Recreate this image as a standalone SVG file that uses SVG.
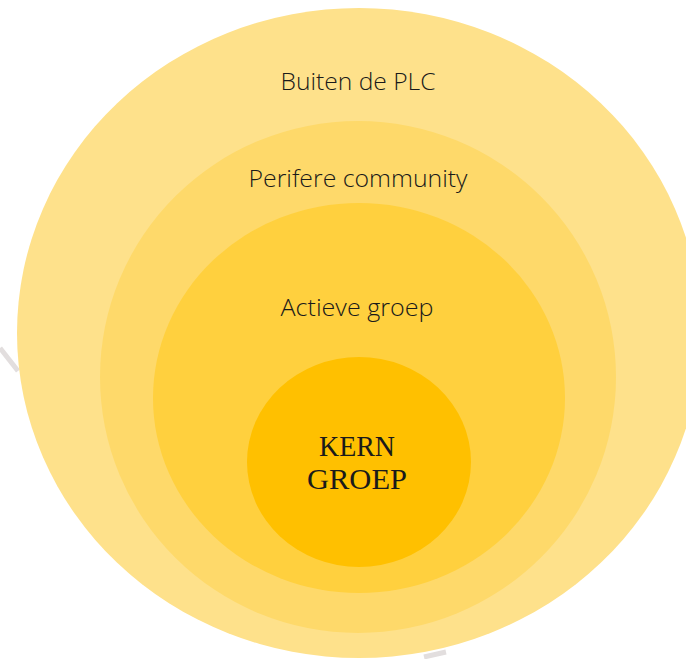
<svg xmlns="http://www.w3.org/2000/svg" width="686" height="659" viewBox="0 0 686 659">
  <style>
    .lbl { font-family: "Open Sans", "Liberation Sans", sans-serif; font-weight: 300; font-size: 24px; fill: #1a1a1a; text-anchor: middle; }
    .core { font-family: "Liberation Serif", "DejaVu Serif", serif; font-size: 30px; fill: #1a1a1a; text-anchor: middle; }
    .artifact { stroke: #e2dede; stroke-width: 5; fill: none; }
  </style>
  <rect width="686" height="659" fill="#ffffff"/>
  <g id="artifacts">
    <line class="artifact" x1="0" y1="348" x2="18" y2="371"/>
    <line class="artifact" x1="424" y1="657" x2="446" y2="652"/>
  </g>
  <g id="buiten">
    <ellipse cx="359" cy="333" rx="342" ry="325" fill="#fee18b"/>
    <text class="lbl" x="358" y="90" textLength="155" lengthAdjust="spacingAndGlyphs">Buiten de PLC</text>
  </g>
  <g id="perifere">
    <ellipse cx="358" cy="377" rx="258" ry="256" fill="#fed96a"/>
    <text class="lbl" x="358" y="187" textLength="219" lengthAdjust="spacingAndGlyphs">Perifere community</text>
  </g>
  <g id="actieve">
    <ellipse cx="359" cy="398" rx="206" ry="195" fill="#ffd03e"/>
    <text class="lbl" x="357" y="316" textLength="153" lengthAdjust="spacingAndGlyphs">Actieve groep</text>
  </g>
  <g id="kern">
    <ellipse cx="359" cy="462" rx="112" ry="105" fill="#ffc000"/>
    <text class="core" x="357" y="456" textLength="76" lengthAdjust="spacingAndGlyphs">KERN</text>
    <text class="core" x="357" y="489" textLength="100" lengthAdjust="spacingAndGlyphs">GROEP</text>
  </g>
  <g id="connectors"/>
</svg>
